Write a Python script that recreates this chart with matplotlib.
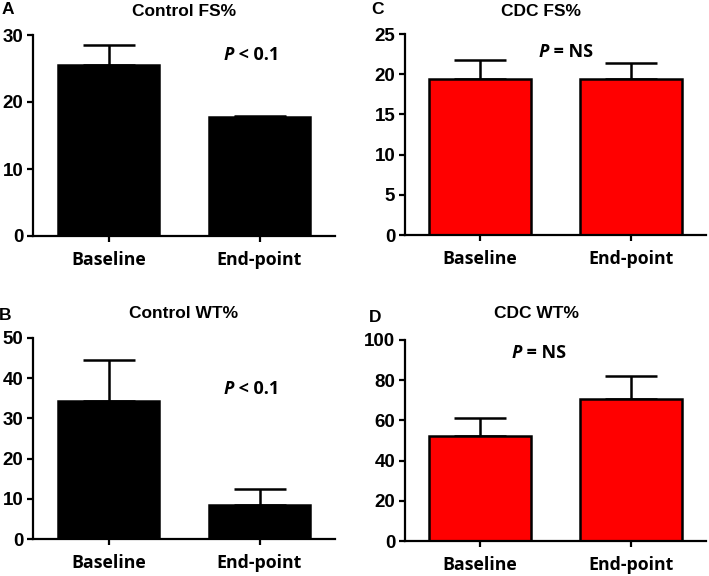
import matplotlib
matplotlib.use("Agg")
import matplotlib.pyplot as plt
import numpy as np

categories = ["Baseline", "End-point"]

control_fs = [25.5, 17.8]
control_fs_err = [3.0, 0.15]
cdc_fs = [19.35, 19.4]
cdc_fs_err = [2.4, 2.0]
control_wt = [34.3, 8.5]
control_wt_err = [10.2, 3.9]
cdc_wt = [52.2, 70.6]
cdc_wt_err = [9.0, 11.5]

panels = [
    # letter, title, values, errors, ymax, yticks, color, p-text, p-text anchor (data x, y)
    ("A", "Control FS%", control_fs, control_fs_err, 30, [0, 10, 20, 30], "black", "< 0.1", (0.83, 27.0)),
    ("C", "CDC FS%", cdc_fs, cdc_fs_err, 25, [0, 5, 10, 15, 20, 25], "#ff0000", "= NS", (0.46, 22.8)),
    ("B", "Control WT%", control_wt, control_wt_err, 50, [0, 10, 20, 30, 40, 50], "black", "< 0.1", (0.83, 37.3)),
    ("D", "CDC WT%", cdc_wt, cdc_wt_err, 100, [0, 20, 40, 60, 80, 100], "#ff0000", "= NS", (0.28, 93.5)),
]

W, H = 709, 576
fig = plt.figure(figsize=(W / 100, H / 100), dpi=100)

# axes rects in pixels: left, right, top (y of ymax), bottom (y of 0)
rects = [
    (33, 335, 35, 236),
    (405, 706, 34, 235),
    (33, 335, 338, 539),
    (405, 706, 340, 541),
]
letter_pos = [(8, 10), (378, 10), (5, 315), (375, 317)]
title_pos = [(184, 11), (541, 11), (184, 314), (537, 314)]

num_font = "Liberation Sans"
lab_font = "Open Sans"

for (letter, title, vals, errs, ymax, yticks, color, ptxt, ppos), (l, r, t, b), lp, tp in zip(
        panels, rects, letter_pos, title_pos):
    ax = fig.add_axes([l / W, 1 - b / H, (r - l) / W, (b - t) / H])
    x = np.arange(len(categories))
    ax.errorbar(x, vals, yerr=[np.zeros(len(vals)), errs], fmt="none", ecolor="black",
                elinewidth=1.8, capsize=18.5, capthick=1.8, zorder=1)
    ax.bar(x, vals, width=0.675, color=color, edgecolor="black", linewidth=1.8, zorder=2)
    ax.set_xlim(-0.5, 1.5)
    ax.set_ylim(0, ymax)
    ax.set_yticks(yticks)
    ax.set_xticks(x)
    ax.set_xticklabels(categories, fontfamily=lab_font, fontweight="bold", fontsize=12.8)
    for lab in ax.get_yticklabels():
        lab.set_fontfamily(num_font)
        lab.set_fontweight("bold")
        lab.set_fontsize(13.5)
    ax.spines["top"].set_visible(False)
    ax.spines["right"].set_visible(False)
    for s in ("left", "bottom"):
        ax.spines[s].set_linewidth(1.6)
    ax.tick_params(axis="both", width=1.6, length=4.5, direction="out")
    ax.tick_params(axis="y", pad=2.5)
    ax.tick_params(axis="x", pad=6)
    ax.text(ppos[0], ppos[1], "P", ha="right", va="center", fontfamily=lab_font,
            fontweight="bold", fontstyle="italic", fontsize=13)
    ax.text(ppos[0], ppos[1], " " + ptxt, ha="left", va="center", fontfamily=lab_font,
            fontweight="bold", fontsize=13)
    fig.text(lp[0] / W, 1 - lp[1] / H, letter, ha="center", va="center",
             fontfamily=num_font, fontweight="bold", fontsize=12.5)
    fig.text(tp[0] / W, 1 - tp[1] / H, title, ha="center", va="center",
             fontfamily=num_font, fontweight="bold", fontsize=12.5)

fig.savefig("out.png", dpi=100, facecolor="white")
